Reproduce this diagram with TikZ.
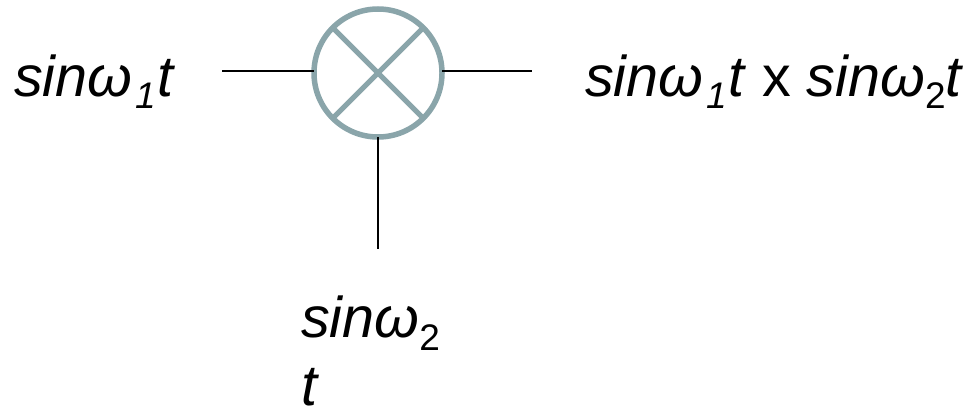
\documentclass[tikz,border=0pt]{standalone}
\usepackage{fontspec}
\setmainfont{Liberation Sans}
\definecolor{ring}{RGB}{138,165,170}
\newcommand{\lowi}[1]{\kern3pt\raisebox{-13pt}{\fontsize{37}{37}\selectfont\itshape #1}\kern1pt}
\newcommand{\lowr}[1]{\raisebox{-13pt}{\fontsize{37}{37}\selectfont #1}}
\tikzset{lbl/.style={inner sep=0pt,anchor=base west,font=\fontsize{57.5}{57.5}\selectfont},wire/.style={draw=black,line width=1.3pt}}
\begin{document}
\begin{tikzpicture}[x=1pt,y=-1pt]
\useasboundingbox (0,0) rectangle (973,409);
\coordinate (c) at (378,73);
\node[circle,draw=ring,line width=5.5pt,minimum size=128pt,inner sep=0pt,outer sep=0pt] (mix) at (c) {};
\draw[ring,line width=5pt] (mix.north west) -- (mix.south east);
\draw[ring,line width=5pt] (mix.north east) -- (mix.south west);
\coordinate (a) at (222,71);
\coordinate (b) at (532,71);
\coordinate (d) at (378,249);
\draw[wire] (a) -- (a -| mix.west);
\draw[wire] (b -| mix.east) -- (b);
\draw[wire] (d |- mix.south) -- (d);
\node[lbl] (l1) at (14,96) {\textit{sinω}\lowi{1}\textit{t}};
\node[lbl] (l2) at (585,96) {\textit{sinω}\lowi{1}\textit{t} x \textit{sinω}\lowr{2}\textit{t}};
\node[lbl] (l3) at (301,337) {\textit{sinω}\lowr{2}};
\node[lbl] (l4) at (301,405) {\textit{t}};
\end{tikzpicture}
\end{document}
